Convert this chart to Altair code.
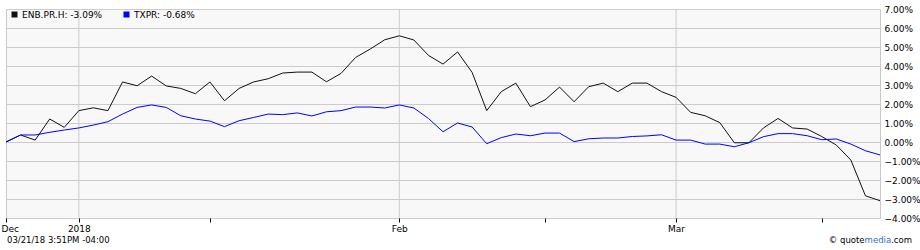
import altair as alt
import pandas as pd

FONT = "DejaVu Sans"

# TSX trading days shown on the chart
dates = [
    "2017-12-21", "2017-12-22", "2017-12-27", "2017-12-28", "2017-12-29",
    "2018-01-02", "2018-01-03", "2018-01-04", "2018-01-05",
    "2018-01-08", "2018-01-09", "2018-01-10", "2018-01-11", "2018-01-12",
    "2018-01-15", "2018-01-16", "2018-01-17", "2018-01-18", "2018-01-19",
    "2018-01-22", "2018-01-23", "2018-01-24", "2018-01-25", "2018-01-26",
    "2018-01-29", "2018-01-30", "2018-01-31",
    "2018-02-01", "2018-02-02",
    "2018-02-05", "2018-02-06", "2018-02-07", "2018-02-08", "2018-02-09",
    "2018-02-12", "2018-02-13", "2018-02-14", "2018-02-15", "2018-02-16",
    "2018-02-20", "2018-02-21", "2018-02-22", "2018-02-23",
    "2018-02-26", "2018-02-27", "2018-02-28",
    "2018-03-01", "2018-03-02",
    "2018-03-05", "2018-03-06", "2018-03-07", "2018-03-08", "2018-03-09",
    "2018-03-12", "2018-03-13", "2018-03-14", "2018-03-15", "2018-03-16",
    "2018-03-19", "2018-03-20", "2018-03-21",
]

enb = [
    0.00, 0.37, 0.10, 1.21, 0.77,
    1.65, 1.80, 1.65, 3.16,
    2.96, 3.47, 2.95, 2.82, 2.54,
    3.16, 2.17, 2.82, 3.16, 3.33,
    3.63, 3.68, 3.68, 3.17, 3.61,
    4.45, 4.89, 5.38,
    5.59, 5.37,
    4.56, 4.10, 4.74, 3.66, 1.65,
    2.65, 3.10, 1.86, 2.21, 2.89,
    2.12, 2.91, 3.10, 2.65,
    3.10, 3.10, 2.65,
    2.35, 1.56,
    1.38, 1.02, -0.04, -0.04, 0.74,
    1.24, 0.74, 0.68, 0.29, -0.16,
    -0.95, -2.83, -3.09,
]

txpr = [
    0.00, 0.37, 0.37, 0.51, 0.63,
    0.74, 0.89, 1.07, 1.47,
    1.82, 1.95, 1.82, 1.38, 1.21,
    1.10, 0.81, 1.12, 1.29, 1.47,
    1.44, 1.53, 1.37, 1.59, 1.65,
    1.84, 1.84, 1.79,
    1.95, 1.79,
    1.24, 0.54, 1.00, 0.79, -0.09,
    0.23, 0.42, 0.33, 0.47, 0.47,
    0.02, 0.17, 0.21, 0.21,
    0.29, 0.32, 0.38,
    0.10, 0.10,
    -0.11, -0.11, -0.25, -0.04, 0.28,
    0.44, 0.44, 0.33, 0.12, 0.16,
    -0.11, -0.46, -0.68,
]

series_names = ["ENB.PR.H", "TXPR"]
series_colors = ["#111111", "#0000ff"]

tick_dates = ["2017-12-21", "2018-01-02", "2018-01-15", "2018-02-01",
              "2018-02-15", "2018-03-01", "2018-03-15"]
tick_labels = ["Dec", "2018", "", "Feb", "", "Mar", ""]
grid_dates = ["2018-01-02", "2018-02-01", "2018-03-01"]
y_ticks = list(range(-4, 8))

timestamp_text = "03/21/18 3:51PM -04:00"

# ---- build tables ----
labels = [f"{n}: {v[-1]:.2f}%" for n, v in zip(series_names, [enb, txpr])]
rows = []
for lab, vals in zip(labels, [enb, txpr]):
    for d, v in zip(dates, vals):
        rows.append({"date": d, "series": lab, "value": v})
df = pd.DataFrame(rows)

label_expr = "".join(
    f"datum.value == '{d}' ? '{l}' : " for d, l in zip(tick_dates, tick_labels)
) + "''"

xscale = alt.Scale(type="point", domain=dates, padding=0)
yscale = alt.Scale(domain=[-4, 7], nice=False, zero=False)

x_axis = alt.Axis(
    values=tick_dates, labelExpr=label_expr, title=None, grid=False,
    domain=False, ticks=True, tickColor="black", tickSize=4, tickWidth=1,
    labelAngle=0, labelFont=FONT, labelFontSize=9, labelColor="black",
    labelPadding=2, labelOverlap=False, labelFlush=True, labelFlushOffset=5,
)
x_enc = alt.X("date:O", scale=xscale, sort=None, axis=x_axis)

grid_rules = alt.Chart(pd.DataFrame({"date": grid_dates})).mark_rule(
    color="#cccccc", strokeWidth=1
).encode(x=x_enc)

lines = alt.Chart(df).mark_line(strokeWidth=1).encode(
    x=x_enc,
    y=alt.Y(
        "value:Q", scale=yscale,
        axis=alt.Axis(
            orient="right", values=y_ticks,
            labelExpr="format(datum.value, '.2f') + '%'",
            title=None, grid=True, gridColor="#cccccc", gridWidth=1,
            domain=False, ticks=False, labelPadding=4,
            labelFont=FONT, labelFontSize=9, labelColor="black",
        ),
    ),
    color=alt.Color(
        "series:N",
        scale=alt.Scale(domain=labels, range=series_colors),
        legend=alt.Legend(
            orient="none", legendX=4, legendY=1, direction="horizontal",
            title=None, symbolType="square", symbolSize=9,
            symbolStrokeWidth=3, labelFont=FONT, labelFontSize=9,
            labelColor="black", columnPadding=16, labelOffset=3, padding=0,
        ),
    ),
    order=alt.Order("date:O"),
)

one = alt.Data(values=[{}])
stamp = alt.Chart(one).mark_text(
    text=timestamp_text, align="left", baseline="middle",
    font=FONT, fontSize=8.5, color="black",
).encode(x=alt.value(1), y=alt.value(231))

copy_com = alt.Chart(one).mark_text(
    text=".com", align="right", baseline="middle",
    font=FONT, fontSize=8.5, color="black",
).encode(x=alt.value(906), y=alt.value(231))
copy_media = alt.Chart(one).mark_text(
    text="media", align="right", baseline="middle",
    font=FONT, fontSize=8.5, color="#2e6ec8",
).encode(x=alt.value(885.1), y=alt.value(231))
copy_quote = alt.Chart(one).mark_text(
    text="© quote", align="right", baseline="middle",
    font=FONT, fontSize=8.5, color="black",
).encode(x=alt.value(858.6), y=alt.value(231))

chart = alt.layer(
    grid_rules, lines, stamp, copy_com, copy_media, copy_quote
).properties(
    width=874, height=209,
    autosize=alt.AutoSizeParams(type="none"),
    padding={"left": 6, "top": 9, "right": 40, "bottom": 32},
    background="white",
).configure_view(
    fill="#f8f8f8", stroke="#c8c8c8", strokeWidth=1,
)

chart.save("out.html", embed_options={"renderer": "svg", "actions": False})
